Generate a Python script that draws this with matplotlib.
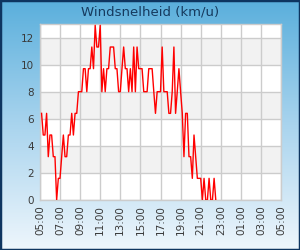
import numpy as np
import pandas as pd
import matplotlib
matplotlib.use('Agg')
import matplotlib.pyplot as plt
import matplotlib.dates as mdates
from matplotlib.colors import LinearSegmentedColormap
from matplotlib.patches import Rectangle

# windsnelheid (km/u), elke 10 minuten vanaf 05:10
start_time = '2024-01-01 05:10'
speeds = [
    6.4, 4.8, 4.8, 6.4, 3.2, 4.8, 4.8, 3.2, 3.2, 0.0,
    1.6, 1.6, 3.2, 4.8, 3.2, 3.2, 4.8, 4.8, 6.4, 4.8,
    6.4, 6.4, 8.0, 8.0, 8.0, 9.7, 9.7, 8.0, 9.7, 9.7,
    11.3, 9.7, 12.9, 11.3, 11.3, 12.9, 8.0, 9.7, 8.0, 9.7,
    9.7, 11.3, 11.3, 11.3, 9.7, 9.7, 8.0, 8.0, 9.7, 11.3,
    9.7, 9.7, 8.0, 9.7, 8.0, 11.3, 8.0, 11.3, 9.7, 9.7,
    9.7, 8.0, 8.0, 8.0, 9.7, 9.7, 9.7, 8.0, 6.4, 8.0,
    8.0, 8.0, 11.3, 8.0, 8.0, 8.0, 6.4, 6.4, 8.0, 11.3,
    6.4, 8.0, 9.7, 8.0, 6.4, 3.2, 6.4, 6.4, 3.2, 3.2,
    1.6, 4.8, 3.2, 1.6, 1.6, 1.6, 0.0, 1.6, 0.0, 0.0,
    1.6, 0.0, 0.0, 1.6, 0.0,
]
x_start = '2024-01-01 05:00'
x_end = '2024-01-02 05:00'
y_max = 13
y_ticks = [0, 2, 4, 6, 8, 10, 12]
title = 'Windsnelheid (km/u)'

times = pd.date_range(start=start_time, periods=len(speeds), freq='10min')

fig = plt.figure(figsize=(3, 2.5), dpi=100)

# achtergrond met kleurverloop
bg = fig.add_axes([0, 0, 1, 1], zorder=-10)
cmap = LinearSegmentedColormap.from_list('bg', ['#5AAFDC', '#A9D4EE', '#EEF6FC'])
grad = np.linspace(0, 1, 256).reshape(-1, 1)
bg.imshow(grad, aspect='auto', cmap=cmap, extent=[0, 1, 0, 1], origin='upper')
bg.add_patch(Rectangle((0, 0), 1, 1, transform=bg.transAxes, fill=False,
                       edgecolor='#0E3560', linewidth=2.5))
bg.set_xlim(0, 1)
bg.set_ylim(0, 1)
bg.axis('off')

fig.text(0.5, 0.952, title, ha='center', va='center', fontsize=9.5, color='#163A5E')

ax = fig.add_axes([0.133, 0.2, 0.804, 0.704])
ax.set_facecolor('white')
for lo in [2, 6, 10]:
    ax.axhspan(lo, lo + 2, color='#F2F2F2', zorder=0, linewidth=0)

ax.plot(times, speeds, color='#FF0000', linewidth=1.0, zorder=3)

ax.set_xlim(pd.Timestamp(x_start), pd.Timestamp(x_end))
ax.set_ylim(0, y_max)
ax.set_yticks(y_ticks)
ax.xaxis.set_major_locator(mdates.HourLocator(byhour=range(1, 24, 2)))
ax.xaxis.set_major_formatter(mdates.DateFormatter('%H:%M'))
ax.set_xticks(pd.date_range(x_start, x_end, freq='2h'))
ax.grid(True, color='#CCCCCC', linewidth=1.0, zorder=1)
ax.set_axisbelow(True)
for s in ax.spines.values():
    s.set_color('#CCCCCC')
    s.set_linewidth(1.0)
ax.tick_params(length=0, labelsize=7.5, labelcolor='#3A3A3A', pad=4)
ax.tick_params(axis='x', rotation=90)

fig.savefig('out.png', dpi=100)
